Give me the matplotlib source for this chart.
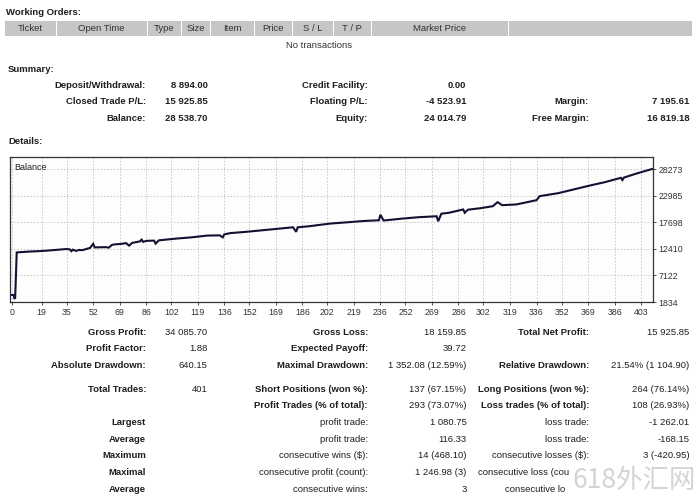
import matplotlib
matplotlib.use('Agg')
import matplotlib.pyplot as plt
from matplotlib import font_manager
from matplotlib.patches import Rectangle

order_columns = ['Ticket', 'Open Time', 'Type', 'Size', 'Item', 'Price', 'S / L', 'T / P', 'Market Price', '']

summary_labels = [['Deposit/Withdrawal:', 'Credit Facility:', ''],
                  ['Closed Trade P/L:', 'Floating P/L:', 'Margin:'],
                  ['Balance:', 'Equity:', 'Free Margin:']]
summary_values = [['8 894.00', '0.00', ''],
                  ['15 925.85', '-4 523.91', '7 195.61'],
                  ['28 538.70', '24 014.79', '16 819.18']]

detail_labels = [['Gross Profit:', 'Gross Loss:', 'Total Net Profit:'],
                 ['Profit Factor:', 'Expected Payoff:', ''],
                 ['Absolute Drawdown:', 'Maximal Drawdown:', 'Relative Drawdown:'],
                 ['Total Trades:', 'Short Positions (won %):', 'Long Positions (won %):'],
                 ['', 'Profit Trades (% of total):', 'Loss trades (% of total):'],
                 ['Largest', 'profit trade:', 'loss trade:'],
                 ['Average', 'profit trade:', 'loss trade:'],
                 ['Maximum', 'consecutive wins ($):', 'consecutive losses ($):'],
                 ['Maximal', 'consecutive profit (count):', ''],
                 ['Average', 'consecutive wins:', '']]
detail_values = [['34 085.70', '18 159.85', '15 925.85'],
                 ['1.88', '39.72', ''],
                 ['640.15', '1 352.08 (12.59%)', '21.54% (1 104.90)'],
                 ['401', '137 (67.15%)', '264 (76.14%)'],
                 ['', '293 (73.07%)', '108 (26.93%)'],
                 ['', '1 080.75', '-1 262.01'],
                 ['', '116.33', '-168.15'],
                 ['', '14 (468.10)', '3 (-420.95)'],
                 ['', '1 246.98 (3)', ''],
                 ['', '3', '']]
# the last two right-hand labels are cut off by the watermark in the screenshot
cut_labels = ['consecutive loss (cou', 'consecutive lo']

trade_no = [0, 1, 1.5, 2, 3, 10, 20, 30, 35, 37, 38, 39, 41, 43, 45, 50, 52, 53, 60, 62,
            64, 66, 70, 73, 75, 77, 82, 83, 84, 86, 91, 92, 94, 105, 115, 125, 133, 135,
            136, 140, 150, 160, 170, 180, 182, 183, 190, 204, 215, 225, 235, 236, 238,
            249, 260, 272, 273, 275, 280, 289, 290, 292, 300, 308, 311, 314, 323, 330,
            336, 338, 342, 350, 362, 370, 380, 390, 391, 392, 400, 410]
balance = [3230, 3230, 2570, 2600, 11700, 11850, 12000, 12250, 12380, 12300, 11950,
           12250, 12000, 12200, 12150, 12600, 13400, 12700, 12750, 12650, 13200, 13300,
           13400, 13550, 13050, 13600, 13900, 14250, 13800, 14000, 14050, 13450, 14100,
           14450, 14700, 15050, 15100, 14700, 15300, 15550, 15800, 16100, 16400, 16700,
           15800, 16700, 16900, 17450, 17700, 17950, 18100, 19200, 18050, 18400, 18700,
           18900, 17900, 19400, 19600, 20250, 19600, 20200, 20500, 20900, 21700, 21100,
           21250, 21700, 22100, 22900, 23100, 23500, 24400, 25000, 25700, 26550, 26100,
           26600, 27400, 28300]

x_ticks = [0, 19, 35, 52, 69, 86, 102, 119, 136, 152, 169, 186, 202, 219, 236, 252,
           269, 286, 302, 319, 336, 352, 369, 386, 403]
y_ticks = [1834, 7122, 12410, 17698, 22985, 28273]

# --- fonts ---
installed = {f.name for f in font_manager.fontManager.ttflist}
if 'Liberation Sans Narrow' in installed:
    FONT, FS = 'Liberation Sans Narrow', 8.0
else:
    FONT, FS = 'Liberation Sans', 6.8
TXT = '#1e1e1e'

W, H = 700, 499
fig = plt.figure(figsize=(W / 100, H / 100), dpi=100)
fig.patch.set_facecolor('white')

# background axes in pixel coordinates
bg = fig.add_axes([0, 0, 1, 1])
bg.set_xlim(0, W)
bg.set_ylim(H, 0)
bg.axis('off')


def put(x, y, s, ha='left', bold=False, size=FS, color=TXT):
    bg.text(x, y, s, ha=ha, va='center', fontsize=size, color=color,
            fontweight='bold' if bold else 'normal', family=[FONT, 'DejaVu Sans'])


# Working orders table
put(6, 12, 'Working Orders:', bold=True)
col_edges = [4, 56, 147, 181, 210, 254, 292, 333, 371, 508, 692]
for k, name in enumerate(order_columns):
    x0, x1 = col_edges[k], col_edges[k + 1]
    bg.add_patch(Rectangle((x0 + 0.5, 20.5), x1 - x0 - 1, 15, facecolor='#c6c6c6',
                           edgecolor='none'))
    put((x0 + x1) / 2, 28, name, ha='center', color='#333333')
put(319, 45, 'No transactions', ha='center', color='#333333')

# Summary block
label_right = [146, 368, 589]
value_right = [207.5, 466.5, 689.5]
put(8, 69, 'Summary:', bold=True)
for r, y in enumerate([85, 101.7, 118.3]):
    for c in range(3):
        put(label_right[c], y, summary_labels[r][c], ha='right', bold=True)
        put(value_right[c], y, summary_values[r][c], ha='right', bold=True)

put(8, 142, 'Details:', bold=True)

# Details block
detail_rows_y = [332.7, 348.3, 365, 389.3, 405.7, 422.7, 439, 456, 472.7, 489.3]
for r, y in enumerate(detail_rows_y):
    for c in range(3):
        lab = detail_labels[r][c]
        bold_lab = not lab[:1].islower()
        put(label_right[c], y, lab, ha='right', bold=bold_lab)
        put(value_right[c], y, detail_values[r][c], ha='right')
put(478, detail_rows_y[8], cut_labels[0])
put(505, detail_rows_y[9], cut_labels[1])

# watermark in the corner
bg.text(572, 481, '618外汇网', ha='left', va='center', fontsize=19, color='#d4d4d4',
        family=['Noto Sans CJK SC', 'DejaVu Sans'], zorder=6)

# Balance chart
ax = fig.add_axes([10 / W, 1 - 302 / H, 643 / W, 145 / H])
ax.set_facecolor('#fdfdfd')
ax.plot(trade_no, balance, color='#111133', linewidth=1.5, solid_joinstyle='miter')
ax.set_xlim(-1.3, 410.6)
ax.set_ylim(1834, 30690)
ax.set_xticks(x_ticks)
ax.set_yticks(y_ticks)
ax.yaxis.tick_right()
ax.tick_params(axis='both', labelsize=6.3, colors='#333333', length=2, width=0.6, pad=2)
for lab in ax.get_xticklabels() + ax.get_yticklabels():
    lab.set_family([FONT, 'DejaVu Sans'])
ax.grid(True, color='#c4c4c4', linestyle=(0, (2, 2)), linewidth=0.6)
for sp in ax.spines.values():
    sp.set_color('#333333')
    sp.set_linewidth(0.9)
ax.text(0.006, 0.96, 'Balance', transform=ax.transAxes, ha='left', va='top',
        fontsize=6.5, color='#222222', family=[FONT, 'DejaVu Sans'])

fig.savefig('out.png', dpi=100)
